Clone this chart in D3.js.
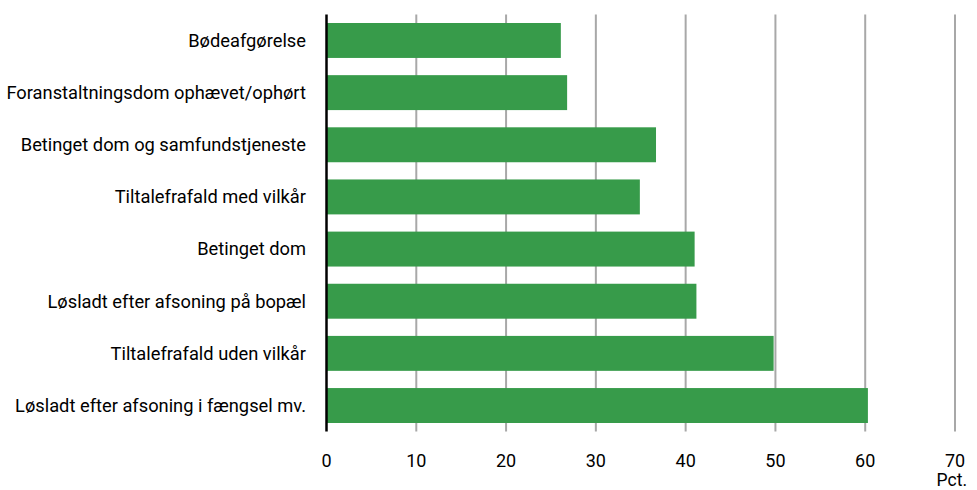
<!DOCTYPE html>
<html>
<head>
    <meta charset="utf-8">
    <script src="https://d3js.org/d3.v7.min.js"></script>
    <style>
        body { margin: 0; background: #fff; }
        text { font-family: Roboto, "Open Sans", sans-serif; fill: #000; }
    </style>
</head>
<body>
    <svg id="plot" width="977" height="490"></svg>
    <script>
        // data (pct.)
        const categories = [
            "Bødeafgørelse",
            "Foranstaltningsdom ophævet/ophørt",
            "Betinget dom og samfundstjeneste",
            "Tiltalefrafald med vilkår",
            "Betinget dom",
            "Løsladt efter afsoning på bopæl",
            "Tiltalefrafald uden vilkår",
            "Løsladt efter afsoning i fængsel mv."
        ];
        const values = [26.1, 26.8, 36.7, 34.9, 41.0, 41.2, 49.8, 60.3];
        const xTicks = [0, 10, 20, 30, 40, 50, 60, 70];
        const unitLabel = "Pct.";

        const svg = d3.select('svg#plot');
        const plot = {left: 326.5, right: 955, top: 14.4, bottom: 431.6};

        const x = d3.scaleLinear().domain([0, 70]).range([plot.left, plot.right]);
        const y = d3.scaleBand().domain(categories).range([plot.top, plot.bottom]).paddingInner(0.33).paddingOuter(0.165);

        // gridlines
        svg.append('g')
            .selectAll('line')
            .data(xTicks.filter(d => d > 0))
            .join('line')
            .attr('x1', d => x(d)).attr('x2', d => x(d))
            .attr('y1', plot.top).attr('y2', plot.bottom)
            .style('stroke', '#a8a8a8')
            .style('stroke-width', 2);

        // bars
        svg.append('g')
            .selectAll('rect')
            .data(values)
            .join('rect')
            .attr('x', x(0))
            .attr('y', (d, i) => y(categories[i]))
            .attr('width', d => x(d) - x(0))
            .attr('height', y.bandwidth())
            .style('fill', '#379b4a');

        // y axis line
        svg.append('line')
            .attr('x1', x(0)).attr('x2', x(0))
            .attr('y1', plot.top).attr('y2', plot.bottom)
            .style('stroke', '#000')
            .style('stroke-width', 2.5);

        // category labels
        svg.append('g')
            .selectAll('text')
            .data(categories)
            .join('text')
            .attr('x', 306)
            .attr('y', d => y(d) + y.bandwidth() / 2)
            .attr('dy', '0.35em')
            .attr('text-anchor', 'end')
            .style('font-size', '18.3px')
            .text(d => d);

        // x tick labels
        svg.append('g')
            .selectAll('text')
            .data(xTicks)
            .join('text')
            .attr('x', d => x(d))
            .attr('y', 467)
            .attr('text-anchor', 'middle')
            .style('font-size', '18px')
            .text(d => d);

        svg.append('text')
            .attr('x', 967)
            .attr('y', 486)
            .attr('text-anchor', 'end')
            .style('font-size', '17.5px')
            .text(unitLabel);
    </script>
</body>
</html>
